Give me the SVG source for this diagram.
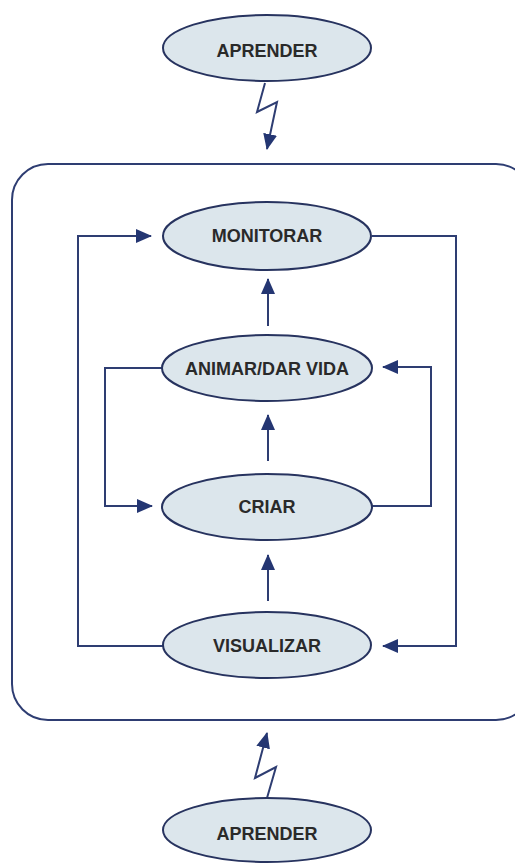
<svg xmlns="http://www.w3.org/2000/svg" width="515" height="863" viewBox="0 0 515 863">
  <defs>
    <marker id="arrow" viewBox="0 0 16 14" refX="15" refY="7" markerWidth="16" markerHeight="14" markerUnits="userSpaceOnUse" orient="auto">
      <path d="M0,0 L16,7 L0,14 Z" fill="#243672"/>
    </marker>
  </defs>
  <style>
    .node ellipse { fill: #dce6ec; stroke: #27335f; stroke-width: 2; }
    .node text { font-family: "Liberation Sans", Arial, sans-serif; font-weight: bold; font-size: 18px; fill: #2a2a2a; text-anchor: middle; }
    .link { fill: none; stroke: #2e3d72; stroke-width: 2; }
    .frame { fill: #ffffff; stroke: #2e3d72; stroke-width: 2; }
  </style>
  <rect width="515" height="863" fill="#ffffff"/>

  <!-- outer boundary -->
  <rect class="frame" x="12" y="164" width="520" height="556" rx="36" ry="36"/>

  <!-- connectors -->
  <g id="connectors">
    <!-- lightning strokes -->
    <path class="link" d="M265,83 L257,112 L277,102 L267,149" marker-end="url(#arrow)"/>
    <path class="link" d="M267,798 L276,767 L255,778 L267,733" marker-end="url(#arrow)"/>
    <!-- vertical flow -->
    <line class="link" x1="268" y1="326" x2="268" y2="279" marker-end="url(#arrow)"/>
    <line class="link" x1="268" y1="461" x2="268" y2="415" marker-end="url(#arrow)"/>
    <line class="link" x1="268" y1="601" x2="268" y2="555" marker-end="url(#arrow)"/>
    <!-- outer loop -->
    <path class="link" d="M163,646 L78,646 L78,236 L151,236" marker-end="url(#arrow)"/>
    <path class="link" d="M372,236 L456,236 L456,646 L383,646" marker-end="url(#arrow)"/>
    <!-- inner loop -->
    <path class="link" d="M162,368 L105,368 L105,506 L152,506" marker-end="url(#arrow)"/>
    <path class="link" d="M372,506 L431,506 L431,367 L383,367" marker-end="url(#arrow)"/>
  </g>

  <g id="aprender-top" class="node">
    <ellipse cx="267" cy="48" rx="104" ry="33"/>
    <text x="267" y="57">APRENDER</text>
  </g>
  <g id="monitorar" class="node">
    <ellipse cx="267" cy="236" rx="104" ry="34"/>
    <text x="267" y="242">MONITORAR</text>
  </g>
  <g id="animar" class="node">
    <ellipse cx="267" cy="368" rx="105" ry="33"/>
    <text x="267" y="375">ANIMAR/DAR VIDA</text>
  </g>
  <g id="criar" class="node">
    <ellipse cx="267" cy="507" rx="105" ry="33"/>
    <text x="267" y="513">CRIAR</text>
  </g>
  <g id="visualizar" class="node">
    <ellipse cx="267" cy="645" rx="104" ry="33"/>
    <text x="267" y="652">VISUALIZAR</text>
  </g>
  <g id="aprender-bottom" class="node">
    <ellipse cx="267" cy="830" rx="104" ry="32"/>
    <text x="267" y="840">APRENDER</text>
  </g>
</svg>
